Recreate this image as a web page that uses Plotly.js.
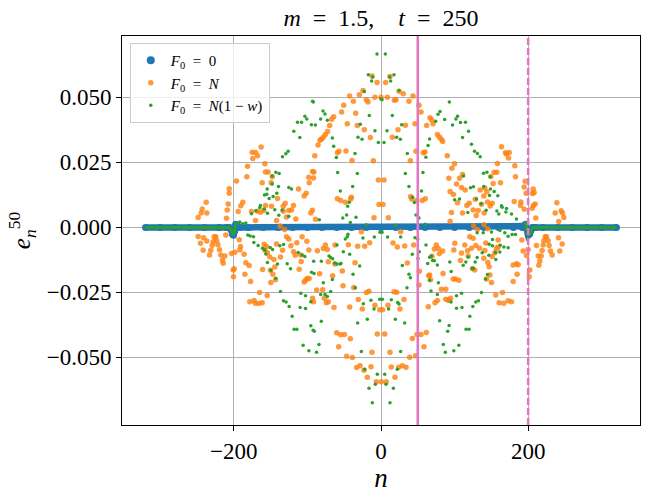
<!DOCTYPE html>
<html>
<head>
<meta charset="utf-8">
<script src="https://cdn.plot.ly/plotly-3.0.1.min.js"></script>
<style>
  body { margin: 0; background: #fff; }
  #chart { width: 654px; height: 493px; }
</style>
</head>
<body>
<div id="chart"></div>
<script>
// values, [n, e] pairs

// F0 = 0 : flat at zero with a small wiggle at n = +-200
var blueN = [-320,-300,-280,-260,-240,-220,-210,-206,-204,-202,-200.5,-199,-197.5,-195,-192,-180,-160,-140,-120,-100,-80,-60,-40,-20,0,20,40,60,80,100,120,140,160,180,192,195,196.5,198,200,202,204,206,210,220,240,260,280,300,320]
var blueE = [0,0,0,0,0,0,0,0,-0.0008,-0.0025,-0.003,-0.0015,0.0012,0.0005,0,0,0,0,0,0,0,0,0,0,0,0,0,0,0,0,0,0,0,0,0,0.0005,0.0012,-0.0005,-0.003,-0.0025,-0.0008,0,0,0,0,0,0,0,0]

// F0 = N(1-w) outside the cone (flat part)
var greenFlatN = [-320,-210,-206,-204,-202,-200.5,-199,-197.5,-196,null,195,196.5,198,200,202,204,206,210,320]
var greenFlatE = [0,0,0,-0.0008,-0.0025,-0.003,-0.0015,0.0015,0.002,null,0.002,0.0015,-0.0005,-0.003,-0.0025,-0.0008,0,0,0]

var orangeLeftTop = [
  [-175,0.0289],[-170.5,0.0288],[-162.9,0.0309],[-174.2,0.0265],[-167.8,0.0275],[-181.4,0.0235],
  [-157.9,0.0245],[-157,0.0213],[-153.4,0.0213],[-182.3,0.0195],[-161.5,0.0172],[-147.9,0.0195],
  [-149.3,0.0172],[-196.4,0.0178],[-206.3,0.0149],[-206.3,0.0131],[-207.7,0.009],[-209,0.0067],
  [-187.8,0.0097],[-190.5,0.0083],[-194.1,0.0061],[-210,0.0035],[-237.6,0.0097],[-243,0.0071],
  [-244.4,0.0055],[-236.7,0.0055],[-248.5,0.0038],[-176,0.0061],[-170.6,0.0026],[-167.8,0.0062],
  [-163.7,0.0058],[-157,0.0084],[-159.3,0.0065],[-148.8,0.0081],[-130.2,0.0093],[-132.9,0.0081],
  [-140.7,0.0111],[-118.9,0.0084],[-121.6,0.0067],[-125.3,0.0065],[-132.9,0.0062],[-112.1,0.0148],
  [-104.4,0.0121],[-98.1,0.0193],[-97.6,0.0172],[-91.3,0.0213],[-90,0.0275],[-101.7,0.0131],
  [-115.8,0.0032],[-128.4,0.004],[-95.4,0.0055],[-141.9,0.0026],[-137,0.0005],[-131,-0.0008]
]
var orangeMidTop = [
  [-12.2,0.0582],[-5.4,0.0557],[6.3,0.0557],[12.2,0.058],[-24.5,0.0526],[-29.4,0.051],
  [-42.6,0.0505],[-37.6,0.0485],[-19.9,0.0491],[-17.7,0.0482],[-8.2,0.05],[0,0.05],
  [8.6,0.05],[18.1,0.0489],[20.4,0.0491],[24.5,0.0524],[30.3,0.0514],[38,0.0485],
  [43.5,0.0505],[51.6,0.047],[54.4,0.0444],[-50.7,0.047],[-53.5,0.0444],[-34.4,0.0439],
  [-45.8,0.0399],[-32.2,0.0392],[-22.7,0.0375],[-14.5,0.0346],[23.1,0.0375],[33.1,0.0393],
  [15.4,0.0347],[46.2,0.0399],[62,0.0392],[66.6,0.0422],[68.9,0.0414],[70.7,0.0399],
  [76.6,0.0357],[79.3,0.0348],[82,0.0339],[83.8,0.033],[90.1,0.0275],[59.8,0.029],
  [57.5,0.0287],[47.6,0.0293],[39.9,0.0256],[-64.3,0.0425],[-67,0.0416],[-69.8,0.0392],
  [-72.5,0.0369],[-75.6,0.0357],[-78.4,0.0347],[-81,0.0339],[-82.9,0.0335],[-85.6,0.0317],
  [-57.1,0.0293],[-59.3,0.0287],[-47.6,0.0294],[-39.4,0.0257],[-10.4,0.0256],[-3.6,0.0182],
  [4.1,0.0182],[-40.3,0.0116],[-41.2,0.0109],[-59.3,0.011],[-54.8,0.0103],[-48.5,0.0097],
  [-2.7,0.0088],[2.7,0.0088],[-9.5,0.0037],[10,0.0037],[-89,0.0031],[-93.3,0.0066],
  [-93,0.0215],[-91.7,0.019],[40.3,0.0119],[41.7,0.0109],[56.2,0.0103],[60.2,0.011],[48.5,0.0103]
]
var orangeRightTop = [
  [163.8,0.031],[169.2,0.0287],[170.5,0.0282],[174.2,0.0288],[173.3,0.0267],[158.3,0.0246],
  [181.9,0.0237],[99.9,0.0245],[96.3,0.0227],[92.2,0.0189],[106.7,0.0189],[110.8,0.0203],
  [102.6,0.0167],[109.4,0.0153],[114.4,0.0144],[93.9,0.0138],[98.4,0.0126],[153.8,0.0212],
  [157.4,0.0212],[149.3,0.0196],[182.8,0.0195],[162.4,0.0172],[152.4,0.0169],[141.1,0.0151],
  [134.8,0.0144],[143.8,0.0137],[195.9,0.0177],[194.6,0.0155],[197.3,0.0131],[206.8,0.0148],
  [205.9,0.013],[208.1,0.0134],[207.2,0.0084],[209.5,0.009],[205.4,0.0074],[181,0.01],
  [190,0.0098],[189.6,0.0084],[194.6,0.007],[239,0.0095],[236.7,0.0055],[244.8,0.0064],
  [246.6,0.0055],[248.5,0.0038],[241.5,0.0023],[210.4,0.0036],[116.6,0.0084],[119.8,0.0093],
  [128,0.0108],[125.3,0.0067],[132.1,0.0065],[136.6,0.0089],[144.7,0.0098],[139.7,0.0121],
  [148.4,0.0082],[151.1,0.0093],[140.2,0.0055],[129.4,0.0046],[110.8,0.0055],[95.8,0.0057],
  [104,0.0095],[93.9,0.0024],[126,0.0005],[131,-0.0008],[140,0.001],[145,-0.0005]
]
var orangeLeftBottom = [
  [-224.5,-0.0036],[-226.7,-0.0036],[-223.2,-0.0051],[-228.1,-0.0055],[-221.7,-0.0067],[-229.4,-0.0069],
  [-219.5,-0.0086],[-231.3,-0.0088],[-217.7,-0.0106],[-233.1,-0.0106],[-215.4,-0.0125],[-214.5,-0.0138],
  [-212.2,-0.011],[-241.7,-0.0088],[-245.3,-0.0061],[-248.5,-0.0035],[-241.2,-0.004],[-236.7,-0.0052],
  [-200.9,-0.0164],[-200.5,-0.019],[-199.6,-0.0159],[-185,-0.018],[-177.3,-0.0208],[-183.7,-0.0136],
  [-179.2,-0.0147],[-186,-0.0103],[-191.8,-0.0087],[-190.9,-0.0074],[-198.6,-0.0096],[-203.2,-0.01],
  [-192.7,-0.0048],[-210.9,-0.0029],[-161,-0.0162],[-154.7,-0.0262],[-165,-0.025],[-178.3,-0.0286],
  [-172.4,-0.0281],[-170.6,-0.0292],[-166,-0.0293],[-161.5,-0.029],[-149.7,-0.0212],[-143.4,-0.0201],
  [-147,-0.018],[-150.2,-0.0165],[-144.3,-0.0152],[-145.6,-0.0124],[-151.1,-0.0114],[-154.3,-0.0098],
  [-158,-0.0087],[-158.8,-0.0065],[-155.6,-0.0074],[-142,-0.0064],[-136.6,-0.0114],[-133.8,-0.0088],
  [-128.4,-0.0036],[-125.3,-0.0045],[-122.5,-0.0071],[-118.9,-0.0094],[-116.6,-0.0107],[-114.4,-0.0059],
  [-109,-0.0106],[-108.5,-0.0131],[-102.6,-0.0203],[-100.4,-0.0197],[-97.6,-0.0197],[-104.4,-0.021],
  [-93,-0.0273],[-91.7,-0.0286],[-111.2,-0.0161],[-98,-0.0087],[-100.8,-0.0053],[-107.2,-0.0036]
]
var orangeMidBottom = [
  [-26.7,-0.0017],[-44.4,-0.0067],[-31.7,-0.0073],[-22.2,-0.0073],[-15.4,-0.0059],[-75.6,-0.0068],
  [-78.4,-0.0081],[-73,-0.0085],[-62.5,-0.0068],[-86.5,-0.009],[-71.6,-0.0132],[-62.5,-0.0141],
  [-52.6,-0.0168],[-65.7,-0.0186],[-83.4,-0.0178],[-35.3,-0.0136],[-51.6,-0.0224],[-37.1,-0.0231],
  [-87.4,-0.0241],[-79.3,-0.024],[-19.9,-0.025],[-16.3,-0.0246],[-30.8,-0.0277],[-74.3,-0.029],
  [-71.6,-0.0286],[-77,-0.0273],[-63.9,-0.0308],[-42.6,-0.0306],[-25.4,-0.0314],[-8.2,-0.0299],
  [-1.8,-0.0317],[2.3,-0.0317],[-60.2,-0.0405],[-54.8,-0.0413],[-49.8,-0.0412],[-41.7,-0.0428],
  [-57.5,-0.0459],[-5,-0.041],[5,-0.041],[-46.7,-0.0496],[-39,-0.05],[-33.1,-0.0539],
  [-28.5,-0.0532],[-23.1,-0.0549],[-13.6,-0.0536],[-18.6,-0.0576],[-6.3,-0.0594],[0.5,-0.0594],
  [7.2,-0.0594],[19,-0.0576],[14,-0.0537],[24,-0.0538],[29,-0.0532],[34,-0.0538],
  [39,-0.0499],[47.1,-0.0494],[42.6,-0.0427],[48.9,-0.0412],[54.4,-0.0412],[61.6,-0.0404],
  [58.4,-0.0459],[12.2,-0.048],[-12.2,-0.048],[31.3,-0.0277],[25.8,-0.0314],[9.5,-0.0299],
  [17.7,-0.0248],[21.3,-0.0249],[51.6,-0.0222],[52.1,-0.0169],[66.1,-0.0183],[67.4,-0.0201],
  [35.8,-0.0137],[44.4,-0.0068],[32.2,-0.0072],[22.2,-0.0075],[16.3,-0.006],[26.7,-0.0017],
  [75.2,-0.0068],[78,-0.0081],[72.5,-0.0083],[83.8,-0.0091],[79.3,-0.0101],[91.5,-0.028],
  [88,-0.0276],[73.4,-0.029],[76.6,-0.0281],[64.3,-0.0305],[82,-0.0238],[88,-0.0238],
  [69.3,-0.0111],[84.3,-0.0177],[64.8,-0.0186]
]
var orangeRightBottom = [
  [223.1,-0.0036],[224.9,-0.0036],[221.3,-0.0051],[227.2,-0.0051],[220.4,-0.0068],[228.5,-0.007],
  [219,-0.0089],[230.3,-0.0091],[217.7,-0.011],[232.6,-0.0106],[215.9,-0.0129],[214.5,-0.0146],
  [211.3,-0.007],[213.6,-0.011],[243,-0.0091],[246.2,-0.0064],[241.2,-0.004],[202.3,-0.0164],
  [201.4,-0.019],[200,-0.0085],[197.7,-0.0108],[193.2,-0.0091],[186.4,-0.0144],[184.1,-0.014],
  [179.6,-0.0208],[185,-0.018],[177.4,-0.0286],[172.8,-0.0282],[166.9,-0.0292],[160.6,-0.029],
  [165.1,-0.025],[156,-0.026],[150.2,-0.0212],[143.4,-0.0199],[148,-0.0183],[147,-0.0151],
  [145.2,-0.0135],[151.1,-0.0112],[154.7,-0.0098],[159.2,-0.0075],[156.9,-0.0081],[159.2,-0.0049],
  [120.7,-0.0036],[125.2,-0.0042],[128.9,-0.007],[133.9,-0.008],[123,-0.008],[141.1,-0.0089],
  [142.4,-0.006],[139.7,-0.0119],[117.6,-0.009],[109.4,-0.0099],[113.9,-0.0068],[118.5,-0.011],
  [124.3,-0.0158],[127.4,-0.0164],[100.3,-0.0061],[99,-0.0087],[108,-0.0127],[105.8,-0.0203],
  [101.3,-0.0199],[98.1,-0.0199],[94.5,-0.0273],[92.7,-0.028],[179.6,-0.0145],[191.4,-0.0049]
]

var greenLeftTop = [
  [-93,0.0485],[-103.5,0.0427],[-100.8,0.0417],[-113.5,0.0404],[-108,0.0404],[-118.5,0.037],
  [-110.3,0.0346],[-126.2,0.0293],[-129.3,0.0283],[-133.9,0.0272],[-142.9,0.0212],[-138.4,0.0207],
  [-147.9,0.0198],[-147.9,0.0167],[-154.7,0.0148],[-155.2,0.0127],[-139.3,0.0157],[-125.3,0.0153],
  [-121.6,0.0148],[-152,0.0111],[-146.6,0.0119],[-141.6,0.0131],[-158.3,0.0125],[-163.8,0.0084],
  [-164.7,0.0076],[-158.8,0.0071],[-154.2,0.0054],[-144.3,0.0068],[-138.9,0.0047],[-134.3,0.0067],
  [-125.3,0.0043],[-176,0.0052],[-183.7,0.0017],[-170.1,0.0064],[-188,0.0014],[-192,0.0021]
]
var greenMidTop = [
  [-5.4,0.0667],[5.9,0.0667],[-17.2,0.0587],[-11.3,0.0578],[-12.7,0.0563],[11.8,0.0578],
  [17.7,0.0587],[13.1,0.0563],[-22.7,0.0523],[0,0.0494],[1.4,0.0491],[-92,0.0482],
  [-78.8,0.0448],[-76.1,0.0436],[-82,0.0417],[-89.2,0.0394],[-94.6,0.0395],[-72.9,0.0412],
  [-28.1,0.0397],[-15.9,0.043],[-8.2,0.0372],[-31.3,0.0347],[-25.8,0.0339],[-3.6,0.0326],
  [4.1,0.0326],[8.2,0.0372],[21.3,0.0347],[28.1,0.0395],[26.3,0.0339],[35.8,0.0284],
  [33.1,0.0207],[38,0.0157],[43,0.0116],[45.3,0.0096],[47.6,0.0048],[51.6,0.0036],
  [-66.1,0.0344],[-60.7,0.0269],[-64.3,0.0312],[-35.3,0.0284],[-58.9,0.0211],[-32.2,0.0207],
  [-38.5,0.0157],[-55.3,0.014],[-43.1,0.0097],[-45.3,0.0081],[-46.7,0.0048],[-52,0.0036],
  [-41.7,0.0019],[-83.8,0.0029],[-34,0.0039],[24.5,0.0526],[15.4,0.043],[-20,0.001],
  [20,0.0008],[60,0.0012],[80.2,0.0446],[77.5,0.0435],[74.3,0.0408],[86.5,0.0415],
  [66,0.034],[61,0.027],[64,0.0315],[57,0.0211],[55,0.014]
]
var greenRightTop = [
  [92.9,0.0482],[104,0.0427],[101.8,0.0417],[97.2,0.0394],[108,0.0403],[114.8,0.0404],
  [118.9,0.037],[110.8,0.0346],[123,0.032],[127.1,0.0293],[131.1,0.0284],[134.8,0.0272],
  [112.1,0.0198],[139.3,0.0208],[143.9,0.0212],[148.4,0.0195],[121.6,0.0152],[125.7,0.0156],
  [139.7,0.0157],[148.8,0.0148],[153.8,0.0138],[158.8,0.0122],[147.5,0.0123],[129.8,0.0109],
  [100,0.0106],[106.7,0.0109],[136.1,0.0091],[163.8,0.0083],[164.7,0.0077],[157.4,0.0063],
  [170.6,0.0073],[169.7,0.0059],[177.4,0.0051],[142.9,0.0066],[160.1,0.0051],[184.1,0.0032],
  [118,0.0057]
]
var greenLeftBottom = [
  [-181,-0.0029],[-173.3,-0.0036],[-177.8,-0.0033],[-167,-0.007],[-172.8,-0.0058],[-161,-0.008],
  [-156.5,-0.0102],[-157.9,-0.0087],[-150.6,-0.0077],[-147.4,-0.0085],[-154.3,-0.0135],[-149.7,-0.0165],
  [-140.7,-0.0141],[-143,-0.0196],[-137.5,-0.0071],[-132.5,-0.0066],[-127.5,-0.014],[-123,-0.0159],
  [-112.6,-0.0097],[-107.2,-0.0106],[-103.5,-0.0112],[-94.4,-0.0173],[-136.6,-0.0247],[-132.5,-0.0282],
  [-129,-0.0287],[-124.8,-0.0304],[-120.7,-0.0342],[-118,-0.0392],[-114.4,-0.0392],[-108.9,-0.0253],
  [-102.6,-0.0263],[-109.9,-0.0308],[-102.6,-0.0312],[-95.4,-0.0286],[-95.4,-0.0378],[-92.2,-0.0396],
  [-105.8,-0.0453],[-98,-0.0474]
]
var greenMidBottom = [
  [-1.4,-0.0019],[1.4,-0.0019],[-48.5,-0.0045],[-45.8,-0.0036],[-44.9,-0.0026],[-24.5,-0.0041],
  [-9.1,-0.0037],[9,-0.0037],[26.7,-0.0037],[46.2,-0.004],[50,-0.0045],[-51.2,-0.0094],
  [-42.6,-0.0103],[-59.8,-0.0068],[-70.7,-0.011],[-68.4,-0.0116],[-65.7,-0.0121],[-63,-0.0137],
  [-59.8,-0.0141],[-55.8,-0.0141],[-54.4,-0.0139],[-29,-0.0149],[-38,-0.018],[-66.1,-0.02],
  [-78.4,-0.0213],[-91.5,-0.013],[-81.1,-0.013],[-82,-0.0258],[-76.1,-0.0258],[-68.4,-0.0247],
  [-72.9,-0.0266],[-91,-0.0177],[-34.9,-0.0232],[-24,-0.0294],[-13.6,-0.028],[-9.5,-0.0314],
  [-1.8,-0.0276],[1.8,-0.0276],[10.4,-0.0314],[24.5,-0.0295],[14,-0.0278],[-31.7,-0.0368],
  [-18.6,-0.0353],[19.5,-0.0353],[32.2,-0.0368],[-81.1,-0.0361],[-90.6,-0.0399],[-84.3,-0.045],
  [-87.6,-0.048],[-26.7,-0.0477],[26.7,-0.0477],[-22.2,-0.0546],[22.2,-0.0546],[-5,-0.0565],
  [5,-0.0565],[-7.7,-0.0603],[6.8,-0.0603],[-16.3,-0.0619],[16.8,-0.0619],[-11.8,-0.0674],
  [12.2,-0.0674],[29,-0.0147],[38,-0.018],[39.9,-0.0194],[42.6,-0.0103],[52,-0.0094],
  [50.3,-0.012],[35.3,-0.0232],[22.7,-0.0289],[61.2,-0.0068],[63.4,-0.0139],[68.4,-0.011],
  [66.1,-0.0115],[72.5,-0.0128],[70.2,-0.0127],[76.6,-0.0145],[78,-0.0213],[66,-0.0203],
  [68,-0.0245],[76.6,-0.0258],[90.6,-0.0399],[84.7,-0.045],[87.4,-0.048],[79.7,-0.0359]
]
var greenRightBottom = [
  [130.7,-0.0021],[138.9,-0.0021],[150.2,-0.0018],[161.5,-0.0012],[168.3,-0.0021],[172.8,-0.0034],
  [178.2,-0.0027],[182.8,-0.0027],[151.5,-0.0047],[162,-0.0069],[167,-0.0075],[172.8,-0.0078],
  [155.6,-0.0097],[161.5,-0.0095],[151.5,-0.0071],[147,-0.0065],[137.5,-0.0098],[146.5,-0.0107],
  [156,-0.0124],[130.7,-0.0116],[128,-0.0133],[144.7,-0.0181],[142,-0.0199],[115.3,-0.0133],
  [111.7,-0.0146],[118.5,-0.0114],[123.9,-0.0158],[125.3,-0.0158],[93.5,-0.0133],[95.4,-0.017],
  [136.6,-0.025],[132.5,-0.0282],[128.9,-0.0287],[124.8,-0.0304],[120.7,-0.0342],[115.6,-0.0392],
  [119.6,-0.0392],[109.4,-0.0253],[102.6,-0.0263],[110,-0.0308],[102.6,-0.0311],[92.6,-0.0377],
  [99,-0.0474],[105.8,-0.0453],[95.2,-0.0287]
]

// vertical markers at n = 50 (solid) and n = 200 (dashed)
var markerN = [50, 200]
var markerDash = ['solid', '7px,3px']

var nTicks = [-200, 0, 200]
var eTicks = [-0.05, -0.025, 0, 0.025, 0.05]

var orangePts = [].concat(orangeLeftTop, orangeMidTop, orangeRightTop, orangeLeftBottom, orangeMidBottom, orangeRightBottom)
var greenPts = [].concat(greenLeftTop, greenMidTop, greenRightTop, greenLeftBottom, greenMidBottom, greenRightBottom)

var BLUE = '#1f77b4', ORANGE = '#ff7f0e', GREEN = '#2ca02c', PINK = '#e377c2'
var serif = 'Liberation Serif, DejaVu Serif, serif'
var EQ = '&nbsp;&nbsp;=&nbsp;&nbsp;'   // wider math-style spacing round "="

var traces = [
  // legend entry only
  { x: [null], y: [null], mode: 'markers', name: '<i>F</i><sub>0</sub>' + EQ + '0',
    marker: { color: BLUE, size: 8 } },
  { x: blueN, y: blueE, mode: 'lines+markers', showlegend: false,
    line: { color: BLUE, width: 6.5 }, marker: { color: BLUE, size: 7 } },
  { x: orangePts.map(p => p[0]), y: orangePts.map(p => p[1]), mode: 'markers',
    name: '<i>F</i><sub>0</sub>' + EQ + '<i>N</i>',
    marker: { color: ORANGE, size: 5.5, opacity: 0.8 } },
  { x: greenPts.map(p => p[0]), y: greenPts.map(p => p[1]), mode: 'markers',
    name: '<i>F</i><sub>0</sub>' + EQ + '<i>N</i>(1 − <i>w</i>)',
    marker: { color: GREEN, size: 3.5 } },
  { x: greenFlatN, y: greenFlatE, mode: 'lines', showlegend: false, connectgaps: false,
    line: { color: GREEN, width: 3 } }
]

var shapes = markerN.map((n, i) => ({
  type: 'line', xref: 'x', yref: 'paper', x0: n, x1: n, y0: 0, y1: 1,
  line: { color: PINK, width: 2.6, dash: markerDash[i] }
}))

var axisCommon = {
  showline: true, mirror: true, linecolor: '#000', linewidth: 1,
  ticks: 'outside', ticklen: 5, tickcolor: '#000', tickwidth: 1,
  showgrid: true, gridcolor: '#b0b0b0', gridwidth: 1, zeroline: false,
  tickfont: { family: serif, size: 23, color: '#000' }
}

var layout = {
  width: 654, height: 493,
  margin: { l: 122, r: 14, t: 36, b: 68 },
  paper_bgcolor: '#fff', plot_bgcolor: '#fff',
  title: {
    text: '<i>m</i>' + EQ + '1.5,&nbsp;&nbsp;&nbsp;&nbsp;<i>t</i>' + EQ + '250',
    font: { family: serif, size: 24, color: '#000' },
    xref: 'paper', x: 0.5, yref: 'container', y: 0.964, yanchor: 'middle'
  },
  xaxis: Object.assign({}, axisCommon, {
    range: [-352, 352], tickvals: nTicks,
    title: { text: '<i>n</i>', font: { family: serif, size: 27, color: '#000' }, standoff: 8 }
  }),
  yaxis: Object.assign({}, axisCommon, {
    range: [-0.076, 0.0736], tickvals: eTicks, tickformat: '.3f',
    title: { text: '<i>e</i><sub><i>n</i></sub><sup>50</sup>', font: { family: serif, size: 25, color: '#000' }, standoff: 8 }
  }),
  legend: {
    x: 0.015, y: 0.982, xanchor: 'left', yanchor: 'top',
    bgcolor: 'rgba(255,255,255,0.8)', bordercolor: '#cccccc', borderwidth: 1,
    font: { family: serif, size: 15, color: '#000' }
  },
  shapes: shapes
}

Plotly.newPlot(document.getElementById('chart'), traces, layout, { displayModeBar: false, staticPlot: true })
</script>
</body>
</html>
